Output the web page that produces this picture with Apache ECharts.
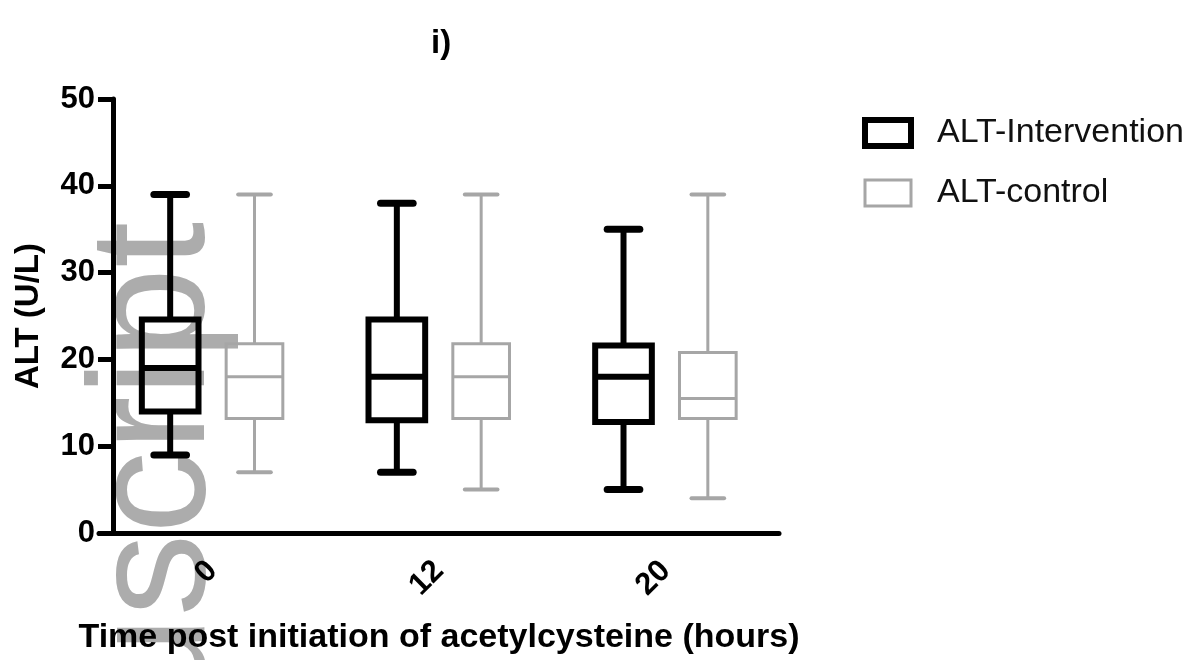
<!DOCTYPE html>
<html>
<head>
<meta charset="utf-8">
<title>ALT box plot</title>
<script src="https://cdn.jsdelivr.net/npm/echarts@6/dist/echarts.min.js"></script>
<style>
  html, body { margin: 0; padding: 0; background: #fff; }
  #chart { width: 1199px; height: 660px; }
</style>
</head>
<body>
<div id="chart"></div>
<script>
// hours after start of acetylcysteine
const timePoints = ["0", "12", "20"]
// [min, q1, median, q3, max] for each time point
const interventionStats = [
  [9, 14, 19, 24.6, 39],
  [7, 13, 18, 24.6, 38],
  [5, 12.8, 18, 21.6, 35]
]
const controlStats = [
  [7, 13.2, 18, 21.8, 39],
  [5, 13.2, 18, 21.8, 39],
  [4, 13.2, 15.5, 20.8, 39]
]
const yTicks = [0, 10, 20, 30, 40, 50]

const FONT = "'Liberation Sans', Arial, sans-serif"

const toRows = (stats) => stats.map((s, i) => [i].concat(s))

// draws one box with whiskers, shifted sideways inside the category band
function boxRenderer(shift, color, lineWidth) {
  return function (params, api) {
    const cat = api.value(0)
    const band = api.size([1, 0])[0]
    const dx = band * shift
    const halfBox = band * 0.125
    const halfCap = band * 0.072
    const pMin = api.coord([cat, api.value(1)])
    const pQ1 = api.coord([cat, api.value(2)])
    const pMed = api.coord([cat, api.value(3)])
    const pQ3 = api.coord([cat, api.value(4)])
    const pMax = api.coord([cat, api.value(5)])
    const cx = pMin[0] + dx
    const stroke = { stroke: color, lineWidth: lineWidth, fill: null }
    const capStyle = { stroke: color, lineWidth: lineWidth + 1, lineCap: "round" }
    const line = (x1, y1, x2, y2, style) => ({
      type: "line",
      shape: { x1, y1, x2, y2 },
      style: style || stroke
    })
    return {
      type: "group",
      children: [
        line(cx, pMax[1], cx, pQ3[1]),
        line(cx, pQ1[1], cx, pMin[1]),
        line(cx - halfCap, pMax[1], cx + halfCap, pMax[1], capStyle),
        line(cx - halfCap, pMin[1], cx + halfCap, pMin[1], capStyle),
        {
          type: "rect",
          shape: { x: cx - halfBox, y: pQ3[1], width: halfBox * 2, height: pQ1[1] - pQ3[1] },
          style: { stroke: color, lineWidth: lineWidth, fill: null }
        },
        line(cx - halfBox, pMed[1], cx + halfBox, pMed[1])
      ]
    }
  }
}

const myChart = echarts.init(document.getElementById("chart"))

myChart.setOption({
  animation: false,
  backgroundColor: "#fff",
  title: {
    text: "i)",
    left: 426,
    top: 22,
    textStyle: { fontFamily: FONT, fontSize: 33, fontWeight: "bold", color: "#000" }
  },
  legend: {
    orient: "vertical",
    left: 862,
    top: 116,
    padding: 0,
    itemWidth: 46,
    itemHeight: 26,
    itemGap: 26,
    selectedMode: false,
    textStyle: { fontFamily: FONT, fontSize: 34, color: "#111", padding: [0, 0, 0, 21] },
    data: [
      { name: "ALT-Intervention", icon: "rect", itemStyle: { color: "#fff", borderColor: "#000", borderWidth: 6 } },
      { name: "ALT-control", icon: "rect", itemStyle: { color: "#fff", borderColor: "#a6a6a6", borderWidth: 3 } }
    ]
  },
  graphic: [
    {
      // faint "manuscript" stamp running up the left edge
      type: "text",
      x: 241,
      y: 222,
      rotation: Math.PI / 2,
      z: -10,
      silent: true,
      style: {
        text: "nuscript",
        font: "165px 'Liberation Sans', Arial, sans-serif",
        fill: "rgba(128,128,128,0.65)",
        align: "right",
        verticalAlign: "bottom"
      }
    }
  ],
  grid: {
    left: 99,
    right: 420,
    top: 99,
    bottom: 127,
    outerBoundsMode: "none"
  },
  xAxis: {
    type: "category",
    data: timePoints,
    boundaryGap: true,
    name: "Time post initiation of acetylcysteine (hours)",
    nameLocation: "middle",
    nameGap: 88,
    nameTextStyle: { fontFamily: FONT, fontSize: 34, fontWeight: "bold", color: "#000" },
    axisLine: { lineStyle: { color: "#000", width: 5 } },
    axisTick: { alignWithLabel: true, length: 17, lineStyle: { color: "#000", width: 5 } },
    axisLabel: {
      rotate: 45,
      margin: 33,
      fontFamily: FONT,
      fontSize: 31,
      fontWeight: "bold",
      color: "#000"
    },
    splitLine: { show: false }
  },
  yAxis: {
    type: "value",
    min: yTicks[0],
    max: yTicks[yTicks.length - 1],
    interval: yTicks[1] - yTicks[0],
    offset: -14,
    name: "ALT (U/L)",
    nameLocation: "middle",
    nameRotate: 90,
    nameGap: 68,
    nameTextStyle: { fontFamily: FONT, fontSize: 33, fontWeight: "bold", color: "#000" },
    axisLine: { show: true, lineStyle: { color: "#000", width: 5 } },
    axisTick: { show: true, length: 15, lineStyle: { color: "#000", width: 5 } },
    axisLabel: {
      margin: 18,
      fontFamily: FONT,
      fontSize: 31,
      fontWeight: "bold",
      color: "#000"
    },
    splitLine: { show: false }
  },
  series: [
    {
      name: "ALT-Intervention",
      type: "custom",
      z: 5,
      itemStyle: { color: "#000" },
      data: toRows(interventionStats),
      encode: { x: 0, y: [1, 2, 3, 4, 5] },
      renderItem: boxRenderer(-0.186, "#000", 6)
    },
    {
      name: "ALT-control",
      type: "custom",
      z: 4,
      itemStyle: { color: "#a6a6a6" },
      data: toRows(controlStats),
      encode: { x: 0, y: [1, 2, 3, 4, 5] },
      renderItem: boxRenderer(0.186, "#a6a6a6", 3)
    }
  ]
})
</script>
</body>
</html>
